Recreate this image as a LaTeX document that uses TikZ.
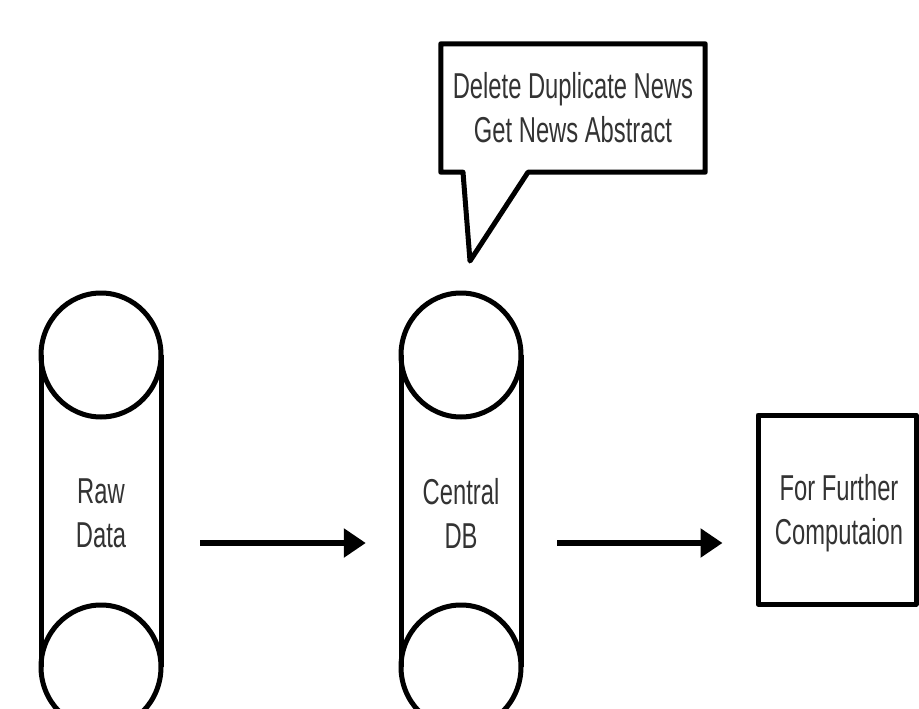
\documentclass[tikz,border=0pt]{standalone}
\usepackage{fontspec}
\newfontfamily\labelfont[FakeStretch=0.66]{Liberation Sans}
\usetikzlibrary{arrows.meta}
\begin{document}
\begin{tikzpicture}[x=1pt,y=-1pt,
  outline/.style={line width=5pt,line join=round},
  lbl/.style={font=\labelfont\fontsize{36}{44}\selectfont,align=center,text=black!80},
  body/.style={minimum width=120pt,minimum height=150pt,inner sep=0pt},
  flow/.style={line width=6pt,-{Triangle[length=22pt,width=28pt]}}]
  \useasboundingbox (0,0) rectangle (919,709);
  \clip (0,0) rectangle (919,709);

  % cylinder bodies carry the labels
  \node[body,lbl] (raw) at (101,513) {Raw\\Data};
  \node[body,lbl] (central) at (461,513) {Central\\DB};

  % cylinders: top and bottom discs joined by straight sides
  \foreach \n/\cx in {raw/101,central/461}{
    \draw[outline] (\cx,355) ellipse [x radius=60,y radius=62];
    \draw[outline] (\cx,667) ellipse [x radius=60,y radius=62];
    \draw[outline] (\cx-60,355) -- (\cx-60,667);
    \draw[outline] (\cx+60,355) -- (\cx+60,667);
  }

  % output box
  \node[draw,outline,minimum width=158pt,minimum height=189pt,inner sep=0pt]
    (further) at (837,509.5) {};
  \node[lbl] (furthertext) at (839,513) {For Further\\Computaion};

  % speech bubble pointing at the central store
  \node[lbl,minimum width=264pt,minimum height=128pt,inner sep=0pt]
    (note) at (573,108) {Delete Duplicate News\\Get News Abstract};
  \coordinate (tip) at (470,261);
  \draw[outline] (note.north west) -- (note.north east) -- (note.south east)
    -- ([xshift=-45pt]note.south) -- (tip) -- ([xshift=-110pt]note.south)
    -- (note.south west) -- cycle;

  % data flow, running below the cylinder centres
  \draw[flow,shorten <=39pt,shorten >=35pt] ([yshift=-30pt]raw.east) -- ([yshift=-30pt]central.west);
  \draw[flow,shorten <=36pt,shorten >=33pt] ([yshift=-30pt]central.east) -- ([yshift=-33.5pt]further.west);
\end{tikzpicture}
\end{document}
